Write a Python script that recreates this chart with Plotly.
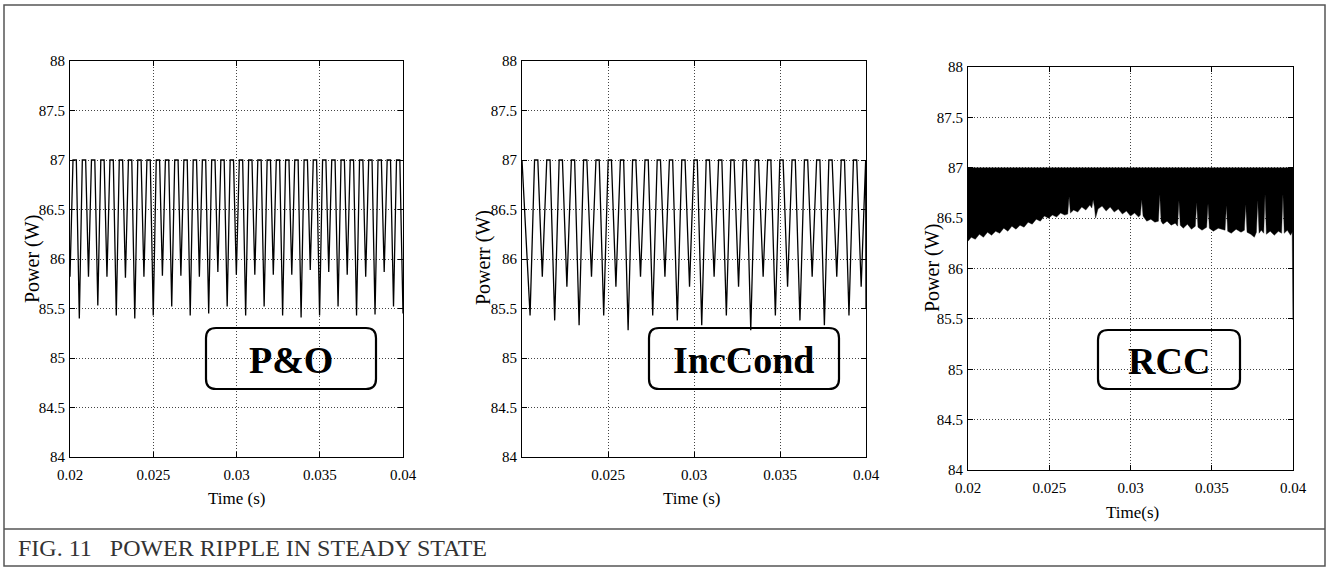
import plotly.graph_objects as go

# ---- data ----
time_ticks = [0.02, 0.025, 0.03, 0.035, 0.04]
time_labels = ['0.02', '0.025', '0.03', '0.035', '0.04']
power_ticks = [84, 84.5, 85, 85.5, 86, 86.5, 87, 87.5, 88]
power_labels = ['84', '84.5', '85', '85.5', '86', '86.5', '87', '87.5', '88']

peak_power = 87.0  # all three methods saturate at 87 W

# P&O: ripple minima and the short flat tops at 87 W
po_t_min = [0.02000, 0.02056, 0.02111, 0.02167, 0.02222, 0.02278, 0.02333, 0.02389, 0.02444, 0.02500,
            0.02555, 0.02611, 0.02666, 0.02722, 0.02777, 0.02833, 0.02888, 0.02944, 0.02999, 0.03055,
            0.03110, 0.03166, 0.03221, 0.03277, 0.03332, 0.03388, 0.03443, 0.03499, 0.03554, 0.03610,
            0.03665, 0.03721, 0.03776, 0.03832, 0.03887, 0.03943]
po_p_min = [85.82, 85.40, 85.82, 85.53, 85.82, 85.43, 85.81, 85.40, 85.82, 85.43,
            85.83, 85.52, 85.83, 85.43, 85.82, 85.45, 85.87, 85.52, 85.84, 85.43,
            85.84, 85.52, 85.84, 85.43, 85.84, 85.41, 85.89, 85.43, 85.87, 85.52,
            85.84, 85.43, 85.82, 85.44, 85.87, 85.52]
po_t_top_start = [0.02018, 0.02074, 0.02129, 0.02185, 0.02240, 0.02296, 0.02351, 0.02407, 0.02462, 0.02518,
                  0.02573, 0.02629, 0.02684, 0.02740, 0.02795, 0.02851, 0.02906, 0.02962, 0.03017, 0.03073,
                  0.03128, 0.03184, 0.03239, 0.03295, 0.03350, 0.03406, 0.03461, 0.03517, 0.03572, 0.03628,
                  0.03683, 0.03739, 0.03794, 0.03850, 0.03905, 0.03961]
po_t_top_end = [0.02038, 0.02094, 0.02149, 0.02205, 0.02260, 0.02316, 0.02371, 0.02427, 0.02482, 0.02538,
                0.02593, 0.02649, 0.02704, 0.02760, 0.02815, 0.02871, 0.02926, 0.02982, 0.03037, 0.03093,
                0.03148, 0.03204, 0.03259, 0.03315, 0.03370, 0.03426, 0.03481, 0.03537, 0.03592, 0.03648,
                0.03703, 0.03759, 0.03814, 0.03870, 0.03925, 0.03981]
po_t_last, po_p_last = 0.04, 85.45

# IncCond
inc_t_first, inc_p_first = 0.02, 87.0
inc_t_min = [0.02047, 0.02118, 0.02190, 0.02261, 0.02332, 0.02404, 0.02475, 0.02546, 0.02617, 0.02689,
             0.02760, 0.02831, 0.02903, 0.02974, 0.03045, 0.03117, 0.03188, 0.03259, 0.03330, 0.03402,
             0.03473, 0.03544, 0.03616, 0.03687, 0.03758, 0.03830, 0.03901, 0.03972]
inc_p_min = [85.43, 85.82, 85.38, 85.72, 85.33, 85.82, 85.43, 85.72, 85.28, 85.82,
             85.43, 85.82, 85.38, 85.72, 85.33, 85.82, 85.43, 85.72, 85.28, 85.82,
             85.43, 85.72, 85.38, 85.82, 85.33, 85.82, 85.43, 85.72]
inc_t_top_start = [0.02073, 0.02144, 0.02216, 0.02287, 0.02358, 0.02430, 0.02501, 0.02572, 0.02643, 0.02715,
                   0.02786, 0.02857, 0.02929, 0.03000, 0.03071, 0.03143, 0.03214, 0.03285, 0.03356, 0.03428,
                   0.03499, 0.03570, 0.03642, 0.03713, 0.03784, 0.03856, 0.03927, 0.03995]
inc_t_top_end = [0.02092, 0.02163, 0.02235, 0.02306, 0.02377, 0.02449, 0.02520, 0.02591, 0.02662, 0.02734,
                 0.02805, 0.02876, 0.02948, 0.03019, 0.03090, 0.03162, 0.03233, 0.03304, 0.03375, 0.03447,
                 0.03518, 0.03589, 0.03661, 0.03732, 0.03803, 0.03875, 0.03946, 0.03998]
inc_t_last, inc_p_last = 0.04, 85.50

# RCC: fast ripple, drawn as the band between 87 W and its lower envelope
rcc_t = [0.02000, 0.02020, 0.02045, 0.02070, 0.02095, 0.02120, 0.02145, 0.02170, 0.02195, 0.02220,
         0.02245, 0.02270, 0.02295, 0.02320, 0.02345, 0.02370, 0.02395, 0.02420, 0.02445, 0.02470,
         0.02495, 0.02520, 0.02545, 0.02570, 0.02595, 0.02614, 0.02622, 0.02630, 0.02650, 0.02675,
         0.02700, 0.02725, 0.02750, 0.02762, 0.02770, 0.02778, 0.02785, 0.02800, 0.02825, 0.02850,
         0.02875, 0.02900, 0.02925, 0.02950, 0.02975, 0.03000, 0.03025, 0.03050, 0.03061, 0.03069,
         0.03077, 0.03100, 0.03125, 0.03150, 0.03172, 0.03180, 0.03188, 0.03200, 0.03225, 0.03250,
         0.03275, 0.03290, 0.03298, 0.03306, 0.03325, 0.03350, 0.03375, 0.03399, 0.03407, 0.03415,
         0.03440, 0.03469, 0.03477, 0.03485, 0.03510, 0.03540, 0.03582, 0.03590, 0.03598, 0.03620,
         0.03650, 0.03680, 0.03701, 0.03709, 0.03717, 0.03740, 0.03762, 0.03775, 0.03783, 0.03791,
         0.03805, 0.03820, 0.03828, 0.03836, 0.03860, 0.03885, 0.03910, 0.03930, 0.03938, 0.03946,
         0.03965, 0.03985, 0.03995, 0.04000]
rcc_low = [86.27, 86.31, 86.29, 86.34, 86.31, 86.36, 86.33, 86.37, 86.35, 86.40,
           86.37, 86.42, 86.39, 86.43, 86.41, 86.46, 86.44, 86.49, 86.47, 86.52,
           86.50, 86.53, 86.51, 86.55, 86.53, 86.54, 86.71, 86.55, 86.58, 86.56,
           86.61, 86.58, 86.63, 86.60, 86.68, 86.61, 86.50, 86.59, 86.62, 86.57,
           86.61, 86.56, 86.59, 86.54, 86.57, 86.52, 86.55, 86.51, 86.53, 86.68,
           86.52, 86.47, 86.49, 86.46, 86.47, 86.73, 86.47, 86.44, 86.47, 86.43,
           86.45, 86.42, 86.67, 86.43, 86.40, 86.44, 86.39, 86.42, 86.65, 86.41,
           86.38, 86.41, 86.64, 86.40, 86.37, 86.40, 86.38, 86.62, 86.37, 86.35,
           86.39, 86.36, 86.38, 86.63, 86.36, 86.34, 86.31, 86.36, 86.67, 86.35,
           86.38, 86.35, 86.73, 86.34, 86.37, 86.33, 86.37, 86.35, 86.73, 86.35,
           86.38, 86.33, 86.36, 85.49]

W, H = 1327, 568
SERIF = 'Liberation Serif'


def px(x):
    return x / W


def py(y):
    return 1 - y / H


def ripple(t_min, p_min, t_up, t_down):
    # min -> flat top at 87 -> next min
    xs, ys = [], []
    for a, b, c, d in zip(t_min, p_min, t_up, t_down):
        xs += [a, c, d]
        ys += [b, peak_power, peak_power]
    return xs, ys


po_x, po_y = ripple(po_t_min, po_p_min, po_t_top_start, po_t_top_end)
po_x.append(po_t_last)
po_y.append(po_p_last)

inc_x, inc_y = ripple(inc_t_min, inc_p_min, inc_t_top_start, inc_t_top_end)
inc_x = [inc_t_first] + inc_x + [inc_t_last]
inc_y = [inc_p_first] + inc_y + [inc_p_last]

fig = go.Figure()
fig.add_trace(go.Scatter(x=po_x, y=po_y, mode='lines', line=dict(color='black', width=1.3),
                         xaxis='x', yaxis='y'))
fig.add_trace(go.Scatter(x=inc_x, y=inc_y, mode='lines', line=dict(color='black', width=1.3),
                         xaxis='x2', yaxis='y2'))
fig.add_trace(go.Scatter(x=rcc_t + rcc_t[::-1], y=rcc_low + [peak_power] * len(rcc_t),
                         mode='lines', fill='toself', fillcolor='black',
                         line=dict(color='#111', width=0.4), xaxis='x3', yaxis='y3'))

tick_font = dict(family=SERIF, size=15, color='black')
GRID_DASH = '1px,2px'


def x_axis(domain, anchor, vals, labels):
    return dict(domain=domain, anchor=anchor, range=[0.02, 0.04], automargin=False,
                tickmode='array', tickvals=vals, ticktext=labels,
                ticks='inside', ticklen=5, tickcolor='black',
                showline=True, linecolor='black', linewidth=1.2, mirror='ticks',
                showgrid=True, gridcolor='#444', griddash=GRID_DASH, gridwidth=1,
                zeroline=False, tickfont=tick_font, ticklabelstandoff=4)


def y_axis(domain, anchor):
    return dict(domain=domain, anchor=anchor, range=[84, 88], automargin=False,
                tickmode='array', tickvals=power_ticks, ticktext=power_labels,
                ticks='inside', ticklen=5, tickcolor='black',
                showline=True, linecolor='black', linewidth=1.2, mirror='ticks',
                showgrid=True, gridcolor='#444', griddash=GRID_DASH, gridwidth=1,
                zeroline=False, tickfont=tick_font, ticklabelstandoff=1)


fig.update_layout(
    width=W, height=H,
    margin=dict(l=0, r=0, t=0, b=0, pad=0),
    paper_bgcolor='white', plot_bgcolor='white',
    showlegend=False,
    xaxis=x_axis([px(70), px(403)], 'y', time_ticks, time_labels),
    yaxis=y_axis([py(457), py(61)], 'x'),
    xaxis2=x_axis([px(522), px(866)], 'y2', time_ticks[1:], time_labels[1:]),
    yaxis2=y_axis([py(457), py(61)], 'x2'),
    xaxis3=x_axis([px(968), px(1293)], 'y3', time_ticks, time_labels),
    yaxis3=y_axis([py(470), py(67)], 'x3'),
)


def rounded_box(x0, y0, x1, y1, r=10):
    # pixel box -> paper path with rounded corners
    X0, X1 = px(x0), px(x1)
    Y0, Y1 = py(y1), py(y0)
    rx, ry = r / W, r / H
    path = (f"M {X0+rx},{Y0} L {X1-rx},{Y0} Q {X1},{Y0} {X1},{Y0+ry} "
            f"L {X1},{Y1-ry} Q {X1},{Y1} {X1-rx},{Y1} L {X0+rx},{Y1} "
            f"Q {X0},{Y1} {X0},{Y1-ry} L {X0},{Y0+ry} Q {X0},{Y0} {X0+rx},{Y0} Z")
    return dict(type='path', path=path, xref='paper', yref='paper',
                line=dict(color='black', width=2.2), fillcolor='rgba(0,0,0,0)', layer='above')


shapes = [
    dict(type='rect', xref='paper', yref='paper', x0=px(4), x1=px(1325), y0=py(566), y1=py(5),
         line=dict(color='#555', width=1.5)),
    dict(type='line', xref='paper', yref='paper', x0=px(4), x1=px(1325), y0=py(529), y1=py(529),
         line=dict(color='#555', width=1.5)),
    rounded_box(206, 328, 376, 389),
    rounded_box(649, 328, 839, 389),
    rounded_box(1098, 330, 1240, 389),
]
fig.update_layout(shapes=shapes)

annotations = []
box_font = dict(family=SERIF, size=38, color='black')
for text, cx, cy in [('<b>P&amp;O</b>', 291, 360), ('<b>IncCond</b>', 744, 360), ('<b>RCC</b>', 1169, 361)]:
    annotations.append(dict(text=text, x=px(cx), y=py(cy), xref='paper', yref='paper',
                            showarrow=False, xanchor='center', yanchor='middle', font=box_font))

title_font = dict(family=SERIF, size=17, color='black')
for text, cx, cy in [('Time (s)', 236, 498), ('Time (s)', 691, 498), ('Time(s)', 1132, 512)]:
    annotations.append(dict(text=text, x=px(cx), y=py(cy), xref='paper', yref='paper',
                            showarrow=False, xanchor='center', yanchor='middle', font=title_font))

ytitle_font = dict(family=SERIF, size=20, color='black')
for text, cx, cy in [('Power (W)', 32, 259), ('Powerr (W)', 483, 258), ('Power (W)', 932, 268)]:
    annotations.append(dict(text=text, x=px(cx), y=py(cy), xref='paper', yref='paper',
                            showarrow=False, xanchor='center', yanchor='middle',
                            textangle=-90, font=ytitle_font))

annotations.append(dict(text='FIG. 11\u00a0\u00a0\u00a0POWER RIPPLE IN STEADY STATE',
                        x=px(16), y=py(548), xref='paper', yref='paper', showarrow=False,
                        xanchor='left', yanchor='middle',
                        font=dict(family=SERIF, size=24, color='#333')))
fig.update_layout(annotations=annotations)

# page body has a default 8px margin; drop it so the figure sits at (0, 0)
fig.write_html("out.html", config={'displayModeBar': False},
               post_script="document.body.style.margin='0';")
